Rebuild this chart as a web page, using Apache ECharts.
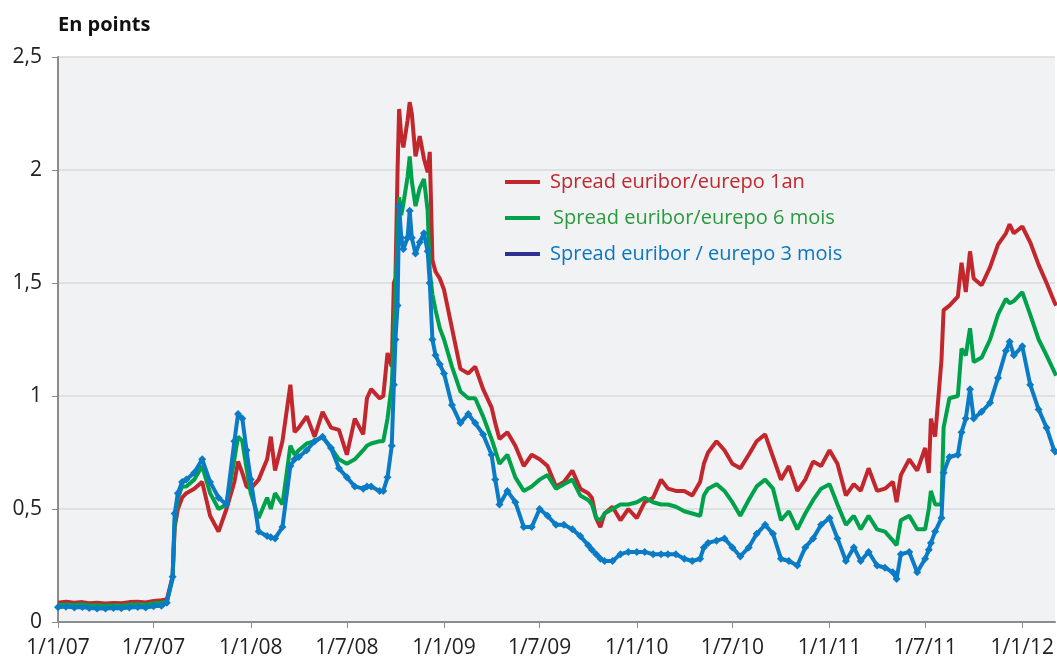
<!DOCTYPE html>
<html>
<head>
<meta charset="utf-8">
<title>Spread euribor/eurepo</title>
<script src="https://cdn.jsdelivr.net/npm/echarts@6/dist/echarts.min.js"></script>
<style>
  html, body { margin: 0; padding: 0; background: #fff; }
  #chart { width: 1057px; height: 659px; }
</style>
</head>
<body>
<div id="chart"></div>
<script>
// dates (semi-monthly, plus a few extra points around the jumps)
var dates = [
  '2007-01-01', '2007-01-16', '2007-02-01', '2007-02-16', '2007-03-01', '2007-03-16',
  '2007-04-01', '2007-04-16', '2007-05-01', '2007-05-16', '2007-06-01', '2007-06-16',
  '2007-07-01', '2007-07-16', '2007-07-26', '2007-08-06', '2007-08-10', '2007-08-16',
  '2007-08-24', '2007-09-01', '2007-09-16', '2007-10-01', '2007-10-16', '2007-11-01',
  '2007-11-16', '2007-12-01', '2007-12-08', '2007-12-16', '2007-12-24',
  '2008-01-01', '2008-01-16', '2008-02-01', '2008-02-08', '2008-02-16', '2008-03-01',
  '2008-03-16', '2008-03-24', '2008-04-01', '2008-04-16', '2008-05-01', '2008-05-16',
  '2008-06-01', '2008-06-16', '2008-07-01', '2008-07-16', '2008-08-01', '2008-08-08',
  '2008-08-16', '2008-09-01', '2008-09-08', '2008-09-16', '2008-09-24', '2008-09-28',
  '2008-10-01', '2008-10-05', '2008-10-08', '2008-10-12', '2008-10-16', '2008-10-24',
  '2008-10-28', '2008-11-01', '2008-11-08', '2008-11-16', '2008-11-24', '2008-12-01',
  '2008-12-05', '2008-12-10', '2008-12-16', '2008-12-24',
  '2009-01-01', '2009-01-16', '2009-02-01', '2009-02-16', '2009-03-01', '2009-03-16',
  '2009-04-01', '2009-04-08', '2009-04-16', '2009-05-01', '2009-05-16', '2009-06-01',
  '2009-06-16', '2009-07-01', '2009-07-16', '2009-08-01', '2009-08-16', '2009-09-01',
  '2009-09-16', '2009-10-01', '2009-10-08', '2009-10-16', '2009-10-24', '2009-11-01',
  '2009-11-16', '2009-12-01', '2009-12-16',
  '2010-01-01', '2010-01-16', '2010-02-01', '2010-02-16', '2010-03-01', '2010-03-16',
  '2010-04-01', '2010-04-16', '2010-05-01', '2010-05-08', '2010-05-16', '2010-06-01',
  '2010-06-16', '2010-07-01', '2010-07-16', '2010-08-01', '2010-08-16', '2010-09-01',
  '2010-09-16', '2010-10-01', '2010-10-16', '2010-11-01', '2010-11-16', '2010-12-01',
  '2010-12-16',
  '2011-01-01', '2011-01-16', '2011-02-01', '2011-02-16', '2011-03-01', '2011-03-16',
  '2011-04-01', '2011-04-16', '2011-05-01', '2011-05-08', '2011-05-16', '2011-06-01',
  '2011-06-16', '2011-07-01', '2011-07-08', '2011-07-12', '2011-07-20', '2011-08-01',
  '2011-08-05', '2011-08-16', '2011-09-01', '2011-09-08', '2011-09-16', '2011-09-24',
  '2011-10-01', '2011-10-16', '2011-11-01', '2011-11-16', '2011-12-01', '2011-12-08',
  '2011-12-16',
  '2012-01-01', '2012-01-16', '2012-02-01', '2012-02-16', '2012-03-01', '2012-03-05'
]

var spread1an = [
  0.085, 0.090, 0.085, 0.088, 0.083, 0.085,
  0.082, 0.084, 0.083, 0.088, 0.090, 0.086,
  0.093, 0.096, 0.100, 0.200, 0.420, 0.500,
  0.550, 0.570, 0.590, 0.620, 0.470, 0.400,
  0.500, 0.620, 0.710, 0.660, 0.600,
  0.590, 0.630, 0.720, 0.820, 0.670, 0.800,
  1.050, 0.840, 0.860, 0.910, 0.820, 0.930,
  0.860, 0.850, 0.740, 0.900, 0.830, 0.990,
  1.030, 0.990, 1.000, 1.190, 1.130, 1.500,
  1.520, 2.000, 2.270, 2.150, 2.100, 2.220,
  2.300, 2.250, 2.060, 2.150, 2.050, 1.990,
  2.080, 1.600, 1.550, 1.520,
  1.470, 1.300, 1.120, 1.100, 1.130, 1.030,
  0.950, 0.880, 0.810, 0.840, 0.780, 0.690,
  0.740, 0.720, 0.690, 0.600, 0.620, 0.670,
  0.590, 0.570, 0.550, 0.460, 0.420, 0.480,
  0.510, 0.450, 0.500,
  0.460, 0.530, 0.550, 0.630, 0.590, 0.580,
  0.580, 0.560, 0.620, 0.700, 0.750, 0.800,
  0.760, 0.700, 0.680, 0.740, 0.800, 0.830,
  0.730, 0.630, 0.690, 0.580, 0.630, 0.710,
  0.690,
  0.760, 0.700, 0.560, 0.610, 0.580, 0.680,
  0.580, 0.590, 0.620, 0.530, 0.650, 0.720,
  0.670, 0.770, 0.660, 0.900, 0.820, 1.160,
  1.380, 1.400, 1.440, 1.590, 1.460, 1.640,
  1.520, 1.490, 1.570, 1.670, 1.720, 1.760,
  1.720,
  1.750, 1.680, 1.580, 1.500, 1.420, 1.400
]

var spread6mois = [
  0.075, 0.078, 0.075, 0.077, 0.073, 0.074,
  0.072, 0.073, 0.072, 0.076, 0.078, 0.076,
  0.082, 0.085, 0.090, 0.190, 0.450, 0.550,
  0.600, 0.600, 0.630, 0.690, 0.570, 0.500,
  0.520, 0.720, 0.820, 0.800, 0.680,
  0.570, 0.460, 0.550, 0.500, 0.570, 0.520,
  0.780, 0.740, 0.760, 0.790, 0.800, 0.820,
  0.770, 0.720, 0.700, 0.720, 0.760, 0.780,
  0.790, 0.800, 0.800, 0.900, 1.050, 1.250,
  1.450, 1.700, 1.880, 1.800, 1.850, 1.970,
  2.060, 1.950, 1.840, 1.920, 1.960, 1.820,
  1.550, 1.450, 1.380, 1.300,
  1.250, 1.130, 1.020, 0.990, 0.990, 0.910,
  0.810, 0.760, 0.700, 0.740, 0.640, 0.580,
  0.600, 0.630, 0.650, 0.590, 0.610, 0.630,
  0.560, 0.540, 0.520, 0.460, 0.450, 0.480,
  0.500, 0.520, 0.520,
  0.530, 0.550, 0.530, 0.520, 0.520, 0.510,
  0.490, 0.480, 0.470, 0.560, 0.590, 0.610,
  0.580, 0.530, 0.470, 0.540, 0.600, 0.630,
  0.590, 0.450, 0.490, 0.410, 0.480, 0.540,
  0.590,
  0.610, 0.520, 0.430, 0.470, 0.410, 0.470,
  0.410, 0.400, 0.360, 0.340, 0.450, 0.470,
  0.410, 0.410, 0.500, 0.580, 0.520, 0.520,
  0.860, 0.990, 1.000, 1.210, 1.180, 1.300,
  1.150, 1.170, 1.250, 1.360, 1.430, 1.410,
  1.420,
  1.460, 1.360, 1.250, 1.180, 1.110, 1.090
]

var spread3mois = [
  0.065, 0.068, 0.064, 0.066, 0.062, 0.060,
  0.060, 0.062, 0.061, 0.064, 0.066, 0.064,
  0.070, 0.072, 0.085, 0.200, 0.480, 0.570,
  0.620, 0.630, 0.660, 0.720, 0.620, 0.550,
  0.520, 0.800, 0.920, 0.900, 0.760,
  0.630, 0.400, 0.380, 0.375, 0.370, 0.420,
  0.690, 0.720, 0.730, 0.760, 0.800, 0.820,
  0.770, 0.680, 0.640, 0.600, 0.590, 0.600,
  0.600, 0.580, 0.580, 0.640, 0.780, 1.050,
  1.250, 1.400, 1.840, 1.700, 1.650, 1.700,
  1.820, 1.700, 1.630, 1.680, 1.720, 1.640,
  1.500, 1.250, 1.180, 1.140,
  1.100, 0.960, 0.880, 0.920, 0.880, 0.830,
  0.740, 0.630, 0.520, 0.580, 0.530, 0.420,
  0.420, 0.500, 0.470, 0.430, 0.430, 0.410,
  0.380, 0.340, 0.320, 0.300, 0.280, 0.270,
  0.270, 0.300, 0.310,
  0.310, 0.310, 0.300, 0.300, 0.300, 0.300,
  0.280, 0.270, 0.280, 0.330, 0.350, 0.360,
  0.370, 0.330, 0.290, 0.330, 0.390, 0.430,
  0.390, 0.280, 0.270, 0.250, 0.330, 0.370,
  0.430,
  0.460, 0.370, 0.270, 0.330, 0.270, 0.310,
  0.250, 0.240, 0.220, 0.190, 0.300, 0.310,
  0.220, 0.280, 0.320, 0.350, 0.400, 0.460,
  0.660, 0.730, 0.740, 0.840, 0.900, 1.030,
  0.900, 0.930, 0.970, 1.080, 1.200, 1.240,
  1.180,
  1.220, 1.050, 0.940, 0.860, 0.760, 0.740
]

// x tick positions, every six months
var tickDates = [
  '2007-01-01', '2007-07-01', '2008-01-01', '2008-07-01', '2009-01-01', '2009-07-01',
  '2010-01-01', '2010-07-01', '2011-01-01', '2011-07-01', '2012-01-01'
]

var font = '"Open Sans", "Noto Sans", sans-serif'

function toTime(d) {
  var p = d.split('-')
  return Date.UTC(+p[0], +p[1] - 1, +p[2])
}

function pairs(values) {
  return dates.map(function(d, i) {
    return [toTime(d), values[i]]
  })
}

var tickValues = tickDates.map(toTime)

var chart = echarts.init(document.getElementById('chart'))

chart.setOption({
  animation: false,
  backgroundColor: '#ffffff',
  title: {
    text: 'En points',
    left: 58,
    top: 15,
    padding: 0,
    textStyle: {
      fontFamily: font,
      fontSize: 20,
      fontWeight: 'bold',
      color: '#111'
    }
  },
  legend: {
    orient: 'vertical',
    left: 505,
    top: 172,
    padding: 0,
    itemWidth: 35,
    itemHeight: 4,
    itemGap: 16,
    icon: 'rect',
    textStyle: {
      fontFamily: font,
      fontSize: 20,
      padding: [0, 0, 0, 5]
    },
    data: [
      { name: 'Spread euribor/eurepo 1an', itemStyle: { color: '#c1272d' }, textStyle: { color: '#c1272d' } },
      { name: 'Spread euribor/eurepo 6 mois', itemStyle: { color: '#00a14b' }, textStyle: { color: '#2a9a3e', padding: [0, 0, 0, 8] } },
      { name: 'Spread euribor / eurepo 3 mois', itemStyle: { color: '#2e3192' }, textStyle: { color: '#0a75c2' } }
    ]
  },
  grid: {
    left: 58,
    right: 0,
    top: 57,
    bottom: 35,
    show: true,
    backgroundColor: '#f1f2f4',
    borderWidth: 0
  },
  xAxis: {
    type: 'value',
    min: toTime('2007-01-01'),
    max: toTime('2012-03-03'),
    axisLine: { lineStyle: { color: '#8c8c8c', width: 2 } },
    axisTick: {
      show: true,
      customValues: tickValues,
      length: 6,
      lineStyle: { color: '#8c8c8c', width: 1 }
    },
    axisLabel: {
      customValues: tickValues,
      margin: 16,
      fontFamily: font,
      fontSize: 21,
      color: '#222',
      formatter: function(value) {
        var d = new Date(value)
        return d.getUTCDate() + '/' + (d.getUTCMonth() + 1) + '/' + String(d.getUTCFullYear()).slice(2)
      }
    },
    splitLine: { show: false }
  },
  yAxis: {
    type: 'value',
    min: 0,
    max: 2.5,
    interval: 0.5,
    axisLine: { show: true, lineStyle: { color: '#8c8c8c', width: 2 } },
    axisTick: { show: true, length: 6, lineStyle: { color: '#8c8c8c' } },
    axisLabel: {
      margin: 16,
      fontFamily: font,
      fontSize: 21,
      color: '#222',
      formatter: function(value) {
        return String(value).replace('.', ',')
      }
    },
    splitLine: { lineStyle: { color: '#d9dadc', width: 1.5 } }
  },
  series: [
    {
      name: 'Spread euribor/eurepo 1an',
      type: 'line',
      data: pairs(spread1an),
      showSymbol: false,
      lineStyle: { color: '#c1272d', width: 4 },
      itemStyle: { color: '#c1272d' }
    },
    {
      name: 'Spread euribor/eurepo 6 mois',
      type: 'line',
      data: pairs(spread6mois),
      showSymbol: false,
      lineStyle: { color: '#00a14b', width: 4 },
      itemStyle: { color: '#00a14b' }
    },
    {
      name: 'Spread euribor / eurepo 3 mois',
      type: 'line',
      data: pairs(spread3mois),
      symbol: 'diamond',
      symbolSize: 8,
      showSymbol: true,
      showAllSymbol: true,
      lineStyle: { color: '#0a7bc4', width: 4 },
      itemStyle: { color: '#0a7bc4' }
    }
  ]
})
</script>
</body>
</html>
